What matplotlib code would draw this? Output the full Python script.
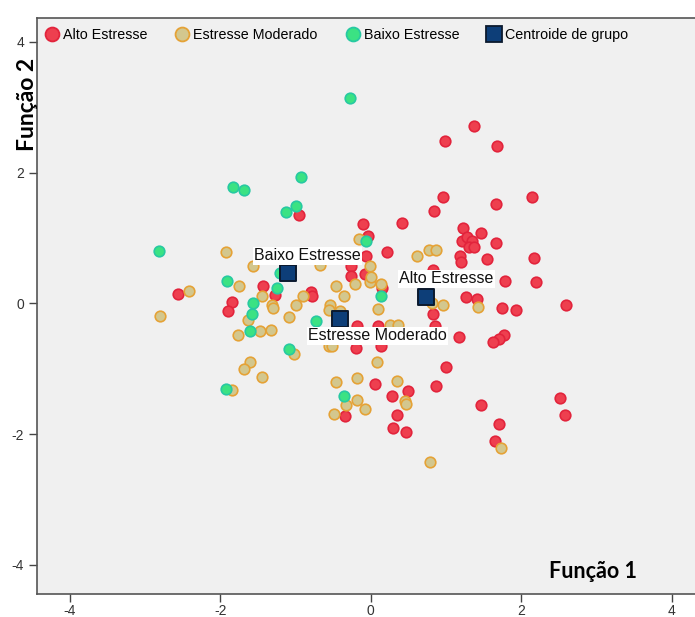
import numpy as np
import matplotlib.pyplot as plt
from matplotlib.lines import Line2D

plt.rcParams['axes.unicode_minus'] = False

# scores das funções discriminantes
alto_x = [-2.56, -1.85, -1.90, -1.43, -1.27, -0.95, -0.80, -0.78, -0.10, -0.03,
          0.41, 0.22, -0.06, -0.26, -0.08, -0.26, 0.15, -0.18, 0.10, -0.20,
          0.14, 0.83, 0.83, 0.86, 1.17, 1.22, 1.46, 1.21, 1.28, 1.35,
          1.30, 1.37, 1.66, 1.18, 1.20, 1.55, 2.17, 1.78, 2.19, 1.27,
          1.41, 1.74, 1.93, 2.60, 1.77, 1.71, 1.62, 1.00, 0.87, 0.49,
          0.28, 0.35, 0.30, 0.47, 0.06, -0.34, 1.47, 1.71, 1.65, 2.51,
          2.58, 1.37, 0.99, 1.68, 0.96, 2.14, 0.84, 1.67]
alto_y = [0.15, 0.02, -0.11, 0.27, 0.13, 1.35, 0.18, 0.11, 1.21, 1.03,
          1.23, 0.79, 0.73, 0.57, 0.45, 0.42, 0.23, -0.34, -0.34, -0.69,
          -0.65, 0.51, -0.16, -0.34, -0.52, 1.16, 1.08, 0.95, 1.01, 0.96,
          0.86, 0.86, 0.93, 0.73, 0.63, 0.68, 0.70, 0.34, 0.33, 0.10,
          0.07, -0.07, -0.10, -0.02, -0.48, -0.55, -0.59, -0.97, -1.26, -1.34,
          -1.42, -1.71, -1.90, -1.97, -1.24, -1.72, -1.56, -1.84, -2.10, -1.44,
          -1.71, 2.71, 2.49, 2.40, 1.62, 1.63, 1.42, 1.52]

moderado_x = [-2.80, -2.41, -1.92, -1.56, -1.75, -1.44, -1.31, -1.30, -1.63, -1.08,
              -1.47, -1.33, -1.77, -1.60, -1.68, -1.45, -1.84, -0.99, -0.90, -1.02,
              -0.68, -0.46, -0.36, -0.54, -0.41, -0.55, -0.21, -0.01, 0.14, 0.01,
              -0.01, -0.15, 0.10, 0.25, 0.36, 0.61, 0.78, 0.87, 0.82, 0.96,
              1.43, -0.55, -0.51, 0.08, -0.18, -0.46, 0.35, -0.33, -0.18, -0.07,
              -0.49, 0.46, 0.47, 1.73, 0.79]
moderado_y = [-0.19, 0.19, 0.79, 0.57, 0.27, 0.12, -0.03, -0.07, -0.25, -0.21,
              -0.43, -0.41, -0.49, -0.90, -1.00, -1.13, -1.33, -0.02, 0.12, -0.78,
              0.59, 0.27, 0.12, -0.03, -0.11, -0.10, 0.29, 0.32, 0.30, 0.41,
              0.57, 0.99, -0.08, -0.33, -0.33, 0.73, 0.81, 0.81, 0.00, -0.02,
              -0.05, -0.65, -0.65, -0.89, -1.14, -1.21, -1.19, -1.55, -1.48, -1.61,
              -1.69, -1.50, -1.54, -2.21, -2.43]

baixo_x = [-2.81, -1.83, -1.68, -0.93, -0.99, -1.12, -0.28, -1.91, -1.24, -1.57,
           -1.58, -1.61, -1.92, -1.09, -0.73, -0.06, 0.13, -0.36, -1.20]
baixo_y = [0.80, 1.78, 1.73, 1.93, 1.49, 1.40, 3.14, 0.35, 0.24, 0.01,
           -0.17, -0.43, -1.31, -0.70, -0.27, 0.95, 0.11, -1.42, 0.47]

grupos = ['Alto Estresse', 'Estresse Moderado', 'Baixo Estresse']
centroide_x = [0.73, -0.41, -1.10]
centroide_y = [0.10, -0.24, 0.47]
ticks = [-4, -2, 0, 2, 4]

fill = {'Alto Estresse': '#ee3f4f', 'Estresse Moderado': '#d3c78e', 'Baixo Estresse': '#3be283'}
edge = {'Alto Estresse': '#e2243c', 'Estresse Moderado': '#e5a236', 'Baixo Estresse': '#27c9a2'}
navy = '#0d3e78'

fig = plt.figure(figsize=(6.95, 6.17), dpi=100)
ax = fig.add_axes([0.0528, 0.0368, 0.9472, 0.9345])
ax.set_facecolor('#f0f0f0')

dados = {'Alto Estresse': (alto_x, alto_y),
         'Estresse Moderado': (moderado_x, moderado_y),
         'Baixo Estresse': (baixo_x, baixo_y)}
for g in grupos:
    x, y = dados[g]
    ax.scatter(x, y, s=58, c=fill[g], edgecolors=edge[g], linewidths=1.2, zorder=3)

ax.scatter(centroide_x, centroide_y, s=145, marker='s', c=navy,
           edgecolors='#0b1a2e', linewidths=1.4, zorder=5)

# rótulos dos centroides
offsets = {'Alto Estresse': (15, 13), 'Estresse Moderado': (27, -12), 'Baixo Estresse': (14, 12)}
for g, cx, cy in zip(grupos, centroide_x, centroide_y):
    ax.annotate(g, (cx, cy), xytext=offsets[g], textcoords='offset points',
                ha='center', va='center', fontsize=11.5, family='Liberation Sans',
                color='#111111', zorder=6,
                bbox=dict(facecolor='white', edgecolor='none', pad=1.0))

ax.set_xlim(-4.44, 4.31)
ax.set_ylim(-4.45, 4.37)
ax.set_xticks(ticks)
ax.set_yticks(ticks)
ax.tick_params(length=5.5, width=1.0, color='#444444', labelsize=10, labelcolor='#333333')
ax.tick_params(axis='x', pad=1.5)
for lab in ax.get_xticklabels() + ax.get_yticklabels():
    lab.set_family('Liberation Sans')
for s in ['left', 'bottom', 'top']:
    ax.spines[s].set_color('#555555')
    ax.spines[s].set_linewidth(1.2)
ax.spines['right'].set_visible(False)

handles = [Line2D([], [], ls='none', marker='o', ms=10, mfc=fill[g], mec=edge[g], mew=1.3)
           for g in grupos]
handles.append(Line2D([], [], ls='none', marker='s', ms=11, mfc=navy, mec='#0b1a2e', mew=1.3))
ax.legend(handles, grupos + ['Centroide de grupo'], loc='upper left', ncol=4,
          frameon=False, bbox_to_anchor=(-0.002, 1.0), handlelength=0.9, handletextpad=0.33,
          columnspacing=1.98, borderaxespad=0.3, prop={'family': 'Liberation Sans', 'size': 10.3})

ax.text(0.845, 0.04, 'Função 1', transform=ax.transAxes, ha='center', va='center',
        fontsize=15.5, fontweight='bold', family='Lato')
fig.text(0.039, 0.83, 'Função 2', rotation=90, ha='center', va='center',
         fontsize=16.5, fontweight='bold', family='Lato')

fig.savefig('out.png', dpi=100)
